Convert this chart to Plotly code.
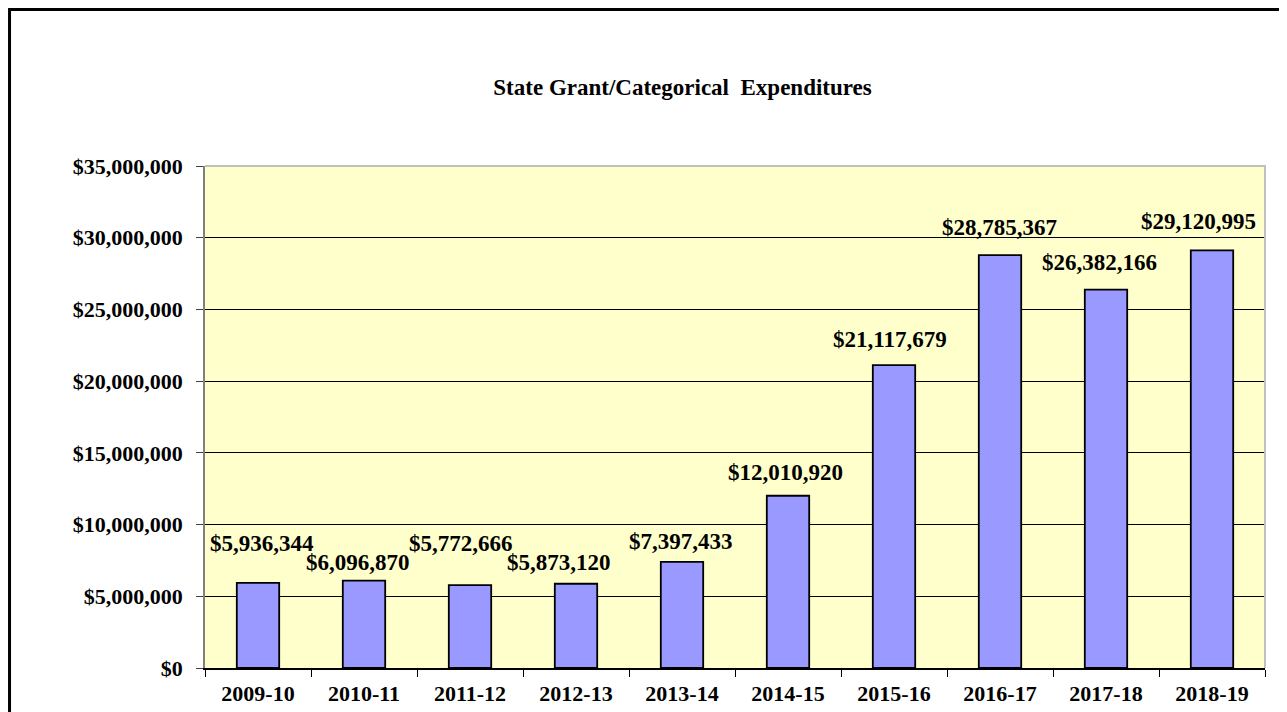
import plotly.graph_objects as go

categories = ["2009-10", "2010-11", "2011-12", "2012-13", "2013-14",
              "2014-15", "2015-16", "2016-17", "2017-18", "2018-19"]
expenditures = [5936344, 6096870, 5772666, 5873120, 7397433,
                12010920, 21117679, 28785367, 26382166, 29120995]
title_text = "State Grant/Categorical  Expenditures"

# label placement offsets (pixels), styling only
label_xshift = [4, -6, -9, -17, -1, -3, -4, -1, -7, -14]
label_yshift = [39, 18, 42, 21, 20, 23, 26, 28, 27, 29]

FONT = "Liberation Serif, Times New Roman, serif"

fig = go.Figure()
fig.add_trace(go.Bar(
    x=categories, y=expenditures, width=0.4,
    marker=dict(color="#9999FF", line=dict(color="black", width=1.8)),
    hoverinfo="x+y",
))

for c, v, dx, dy in zip(categories, expenditures, label_xshift, label_yshift):
    fig.add_annotation(
        x=c, y=v, text="${:,}".format(v), showarrow=False,
        xanchor="center", yanchor="middle", xshift=dx, yshift=dy,
        font=dict(family=FONT, size=23, color="black", weight="bold"),
    )

# plot area top/right border
fig.add_shape(type="path", xref="paper", yref="paper",
              path="M 0 1 L 1 1 L 1 0", line=dict(color="#C0C0C0", width=2),
              layer="above")
# outer chart border
fig.add_shape(type="rect", xref="paper", yref="paper",
              x0=-0.1844, x1=1.1, y0=-0.2, y1=1.3118,
              line=dict(color="black", width=3), fillcolor="rgba(0,0,0,0)")

fig.update_layout(
    width=1279, height=704,
    margin=dict(l=197, r=22, t=158, b=44, autoexpand=False),
    paper_bgcolor="white", plot_bgcolor="#FFFFCC",
    showlegend=False,
    title=dict(text=title_text, x=0.5274, xanchor="center", y=0.8878,
               yanchor="middle",
               font=dict(family=FONT, size=23, color="black", weight="bold")),
    xaxis=dict(
        type="category", showline=True, linecolor="black", linewidth=1.5,
        ticks="outside", tickson="boundaries", ticklen=7, tickcolor="black",
        ticklabelstandoff=5, automargin=False,
        tickfont=dict(family=FONT, size=22, color="black", weight="bold"),
        showgrid=False,
    ),
    yaxis=dict(
        range=[0, 35000000], dtick=5000000, tickprefix="$", tickformat=",",
        showline=True, linecolor="#808080", linewidth=1.5,
        ticks="outside", ticklen=7, tickcolor="#404040",
        ticklabelstandoff=9, automargin=False,
        tickfont=dict(family=FONT, size=22, color="black", weight="bold"),
        showgrid=True, gridcolor="black", gridwidth=1, zeroline=False,
    ),
)

fig.write_html("out.html")
